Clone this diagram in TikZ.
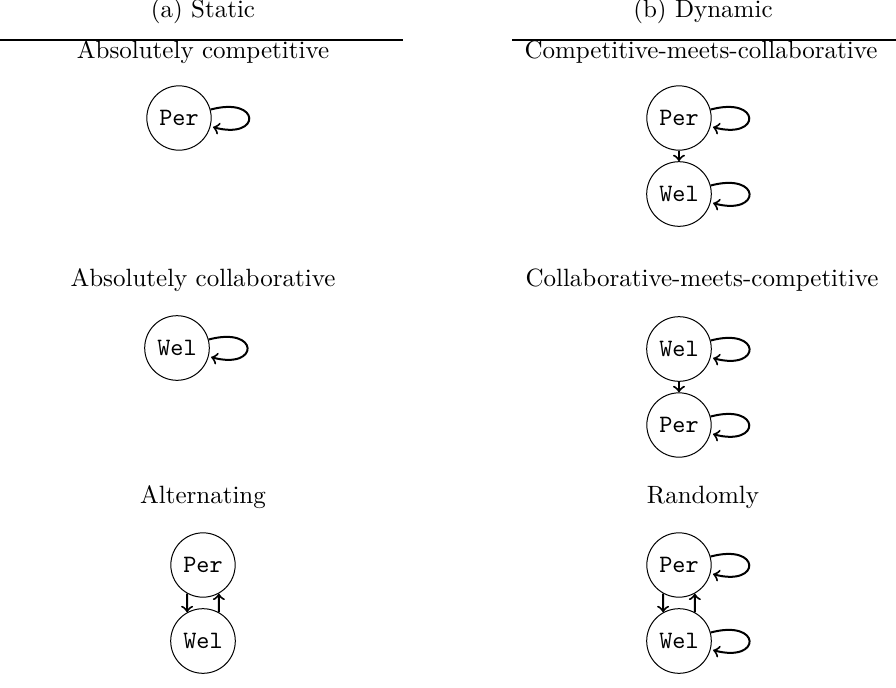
\documentclass[tikz,border=0pt]{standalone}
\begin{document}
\begin{tikzpicture}[x=0.4pt,y=-0.4pt,
  state/.style={circle,draw,line width=0.4pt,font=\ttfamily},
  link/.style={->,line width=0.8pt},
  selfloop/.style={->,line width=0.8pt,loop right},
  heading/.style={inner sep=0pt},
  rulestyle/.style={line width=0.5pt}]
\useasboundingbox (0,0) rectangle (896,688);

% column headings and rules
\node[heading] (ta) at (203,11) {(a) Static};
\node[heading] (tb) at (703,11) {(b) Dynamic};
\coordinate (ra1) at (0,40);   \coordinate (ra2) at (403,40);
\coordinate (rb1) at (512,40); \coordinate (rb2) at (896,40);
\draw[rulestyle] (ra1) -- (ra2);
\draw[rulestyle] (rb1) -- (rb2);

% (a) static schedules
\node[heading] (la1) at (203,52) {Absolutely competitive};
\node[state] (a1) at (179,118) {Per};
\path (a1) edge[selfloop] (a1);

\node[heading] (la2) at (203,280) {Absolutely collaborative};
\node[state] (a2) at (177,348) {Wel};
\path (a2) edge[selfloop] (a2);

\node[heading] (la3) at (203,497) {Alternating};
\node[state] (a3p) at (203,565) {Per};
\node[state] (a3w) at (203,641) {Wel};
\draw[link] (a3p.241) -- (a3w.119);
\draw[link] (a3w.61) -- (a3p.299);

% (b) dynamic schedules
\node[heading] (lb1) at (701,52) {Competitive-meets-collaborative};
\node[state] (b1p) at (679,118) {Per};
\node[state] (b1w) at (679,194) {Wel};
\path (b1p) edge[selfloop] (b1p);
\path (b1w) edge[selfloop] (b1w);
\draw[link] (b1p) -- (b1w);

\node[heading] (lb2) at (702,280) {Collaborative-meets-competitive};
\node[state] (b2w) at (679,349) {Wel};
\node[state] (b2p) at (679,425) {Per};
\path (b2w) edge[selfloop] (b2w);
\path (b2p) edge[selfloop] (b2p);
\draw[link] (b2w) -- (b2p);

\node[heading] (lb3) at (703,497) {Randomly};
\node[state] (b3p) at (679,565) {Per};
\node[state] (b3w) at (679,641) {Wel};
\path (b3p) edge[selfloop] (b3p);
\path (b3w) edge[selfloop] (b3w);
\draw[link] (b3p.241) -- (b3w.119);
\draw[link] (b3w.61) -- (b3p.299);
\end{tikzpicture}
\end{document}
